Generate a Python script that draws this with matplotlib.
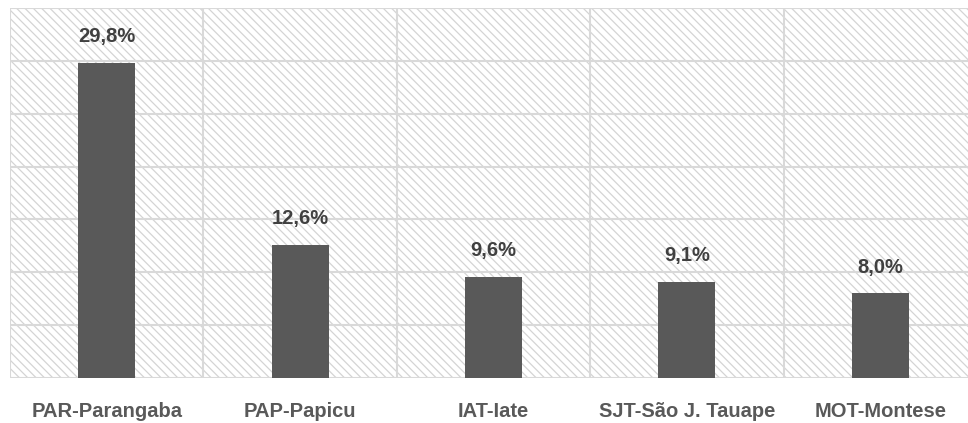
import matplotlib
matplotlib.use("Agg")
import matplotlib.pyplot as plt
from matplotlib.patches import Rectangle
import numpy as np

# Share of passengers by station
categories = ["PAR-Parangaba", "PAP-Papicu", "IAT-Iate", "SJT-São J. Tauape", "MOT-Montese"]
values = [29.8, 12.6, 9.6, 9.1, 8.0]
value_labels = ["29,8%", "12,6%", "9,6%", "9,1%", "8,0%"]

FONT = ["Liberation Sans Narrow", "Liberation Sans", "DejaVu Sans"]
BAR_COLOR = "#595959"
GRID_COLOR = "#d9d9d9"

plt.rcParams["hatch.linewidth"] = 0.9

fig = plt.figure(figsize=(9.68, 4.23), dpi=100)
ax = fig.add_axes([10 / 968, 1 - 378 / 423, 967 / 968, 370 / 423])

x = np.arange(len(categories))
ax.set_xlim(-0.5, len(categories) - 0.5)
ax.set_ylim(0, 35)

# hatched plot background
ax.set_facecolor("white")
ax.add_patch(Rectangle((0, 0), 1, 1, transform=ax.transAxes, facecolor="white",
                       edgecolor="#d4d4d4", hatch="\\" * 4, linewidth=0, zorder=0))

# grid: horizontal every 5 points, vertical at category boundaries
for yv in np.arange(0, 35.1, 5):
    ax.axhline(yv, color=GRID_COLOR, linewidth=1.5, zorder=1)
for xv in np.arange(-0.5, len(categories), 1.0):
    ax.axvline(xv, color=GRID_COLOR, linewidth=1.5, zorder=1)

ax.bar(x, values, width=0.295, color=BAR_COLOR, zorder=2)

for xi, v, lab in zip(x, values, value_labels):
    ax.annotate(lab, (xi, v), xytext=(0, 12), textcoords="offset points",
                ha="center", va="bottom", fontsize=14.5, fontweight="bold",
                color="#404040", family=FONT, zorder=3)

ax.set_xticks(x)
ax.set_xticklabels(categories, fontsize=14.5, fontweight="bold", color="#595959", family=FONT)
ax.tick_params(axis="x", length=0, pad=17)
ax.set_yticks([])
for s in ax.spines.values():
    s.set_visible(False)

fig.savefig("out.png", dpi=100)
